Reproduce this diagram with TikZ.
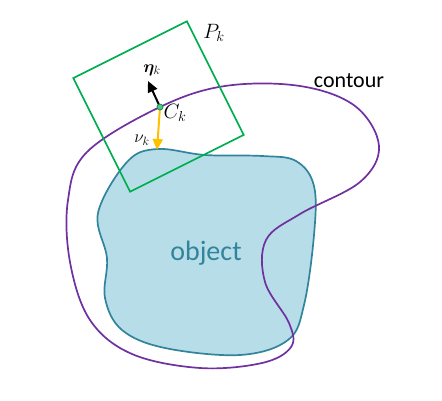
\documentclass[tikz,border=0pt]{standalone}
\usepackage{amsmath, amssymb, bm}
\usepackage{fontspec}
\usepackage{xcolor}
\usepackage{tikz}
\usetikzlibrary{arrows.meta, positioning, calc}
\newfontfamily\calibrifont{Carlito}
\definecolor{cgreen}{RGB}{0,176,80}
\definecolor{cpurple}{RGB}{112,48,160}
\definecolor{cteal}{RGB}{49,132,155}
\definecolor{cfill}{RGB}{183,221,232}
\definecolor{corange}{RGB}{255,192,0}

\begin{document}
\begin{tikzpicture}[
  x=1pt, y=-1pt,
  patch/.style={draw=cgreen, line width=1.7pt, rotate=26.57,
                minimum width=127pt, minimum height=127pt, inner sep=0pt},
  curve/.style={draw=cpurple, line width=1.7pt},
  blob/.style={draw=cteal, fill=cfill, line width=1.7pt},
  normal/.style={-{Triangle[length=11pt, width=10pt]}, line width=2pt},
  mlab/.style={inner sep=1pt},
  word/.style={font=\calibrifont\fontsize{22}{26}\selectfont, inner sep=0pt}
]
\useasboundingbox (0,0) rectangle (442,400);

% ---- Object ----
\path[blob] plot[smooth cycle, tension=0.6] coordinates {
  (157,149) (205,155) (262,156) (296,161) (314,186) (314,235) (304,305)
  (288,340) (240,355) (165,348) (122,330) (105,298) (107,258) (98,213)
  (127,162)};
\node[word, cteal, font=\calibrifont\fontsize{28}{32}\selectfont] (obj) at (206,253) {object};

% ---- Contour ----
\coordinate (ck) at (160,107);
\path[curve] plot[smooth cycle, tension=0.6] coordinates {
  (160,107) (225,86) (300,86) (355,106) (379,146) (360,182) (300,214)
  (266,240) (265,282) (289,323) (291,347) (262,363) (200,368) (132,354)
  (90,320) (70,262) (68,200) (87,152)};
\node[word] (cont) at (349,81) {contour};

% ---- Patch around C_k ----
\node[patch] (pk) at (158.5,106.5) {};
\node[mlab, font=\fontsize{22}{24}\selectfont] (pklab) at (214,33) {$P_k$};

% ---- Normals ----
\coordinate (etatip) at (148,81);
\coordinate (nutip) at (157,150);
\draw[normal, black] (ck) -- (etatip);
\draw[normal, corange] (ck) -- (nutip);
\node[mlab, font=\fontsize{17}{19}\selectfont] (etalab) at (152,70) {$\bm{\eta}_k$};
\node[mlab, font=\fontsize{17}{19}\selectfont] (nulab) at (142,140) {$\nu_k$};

\filldraw[fill=cgreen!70, draw=cgreen!70!black, line width=0.6pt] (ck) circle (3pt);
\node[mlab, font=\fontsize{20}{22}\selectfont] (cklab) at (175,113) {$C_k$};

\end{tikzpicture}
\end{document}
